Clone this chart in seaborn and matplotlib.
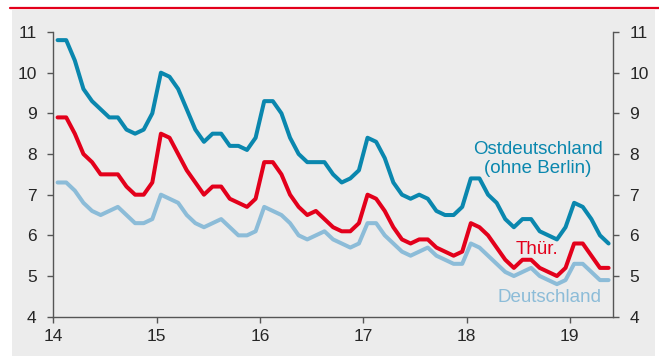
import numpy as np
import pandas as pd
import matplotlib
matplotlib.use("Agg")
import matplotlib.pyplot as plt
from matplotlib.patches import Rectangle
from matplotlib.lines import Line2D
import seaborn as sns

# Monthly unemployment rates (%), January 2014 to May 2019
ost = [10.8, 10.8, 10.3, 9.6, 9.3, 9.1, 8.9, 8.9, 8.6, 8.5, 8.6, 9.0,
       10.0, 9.9, 9.6, 9.1, 8.6, 8.3, 8.5, 8.5, 8.2, 8.2, 8.1, 8.4,
       9.3, 9.3, 9.0, 8.4, 8.0, 7.8, 7.8, 7.8, 7.5, 7.3, 7.4, 7.6,
       8.4, 8.3, 7.9, 7.3, 7.0, 6.9, 7.0, 6.9, 6.6, 6.5, 6.5, 6.7,
       7.4, 7.4, 7.0, 6.8, 6.4, 6.2, 6.4, 6.4, 6.1, 6.0, 5.9, 6.2,
       6.8, 6.7, 6.4, 6.0, 5.8]
thuer = [8.9, 8.9, 8.5, 8.0, 7.8, 7.5, 7.5, 7.5, 7.2, 7.0, 7.0, 7.3,
         8.5, 8.4, 8.0, 7.6, 7.3, 7.0, 7.2, 7.2, 6.9, 6.8, 6.7, 6.9,
         7.8, 7.8, 7.5, 7.0, 6.7, 6.5, 6.6, 6.4, 6.2, 6.1, 6.1, 6.3,
         7.0, 6.9, 6.6, 6.2, 5.9, 5.8, 5.9, 5.9, 5.7, 5.6, 5.5, 5.6,
         6.3, 6.2, 6.0, 5.7, 5.4, 5.2, 5.4, 5.4, 5.2, 5.1, 5.0, 5.2,
         5.8, 5.8, 5.5, 5.2, 5.2]
deutschland = [7.3, 7.3, 7.1, 6.8, 6.6, 6.5, 6.6, 6.7, 6.5, 6.3, 6.3, 6.4,
               7.0, 6.9, 6.8, 6.5, 6.3, 6.2, 6.3, 6.4, 6.2, 6.0, 6.0, 6.1,
               6.7, 6.6, 6.5, 6.3, 6.0, 5.9, 6.0, 6.1, 5.9, 5.8, 5.7, 5.8,
               6.3, 6.3, 6.0, 5.8, 5.6, 5.5, 5.6, 5.7, 5.5, 5.4, 5.3, 5.3,
               5.8, 5.7, 5.5, 5.3, 5.1, 5.0, 5.1, 5.2, 5.0, 4.9, 4.8, 4.9,
               5.3, 5.3, 5.1, 4.9, 4.9]
series_names = ["Ostdeutschland\n(ohne Berlin)", "Thür.", "Deutschland"]
year_ticks = [14, 15, 16, 17, 18, 19]
y_ticks = [4, 5, 6, 7, 8, 9, 10, 11]

colors = {series_names[0]: "#0a87ae", series_names[1]: "#e3001b",
          series_names[2]: "#8cbcd8"}

n = len(ost)
t = 14 + (np.arange(n) + 0.5) / 12.0
df = pd.concat([
    pd.DataFrame({"t": t, "Quote": ost, "Reihe": series_names[0]}),
    pd.DataFrame({"t": t, "Quote": thuer, "Reihe": series_names[1]}),
    pd.DataFrame({"t": t, "Quote": deutschland, "Reihe": series_names[2]}),
])

sns.set_style("white")
plt.rcParams["font.family"] = ["Liberation Sans", "DejaVu Sans"]

W, H = 659, 356
fig = plt.figure(figsize=(W / 100, H / 100), dpi=100)
fig.patch.set_facecolor("white")
# grey panel and red rule at the top
fig.patches.append(Rectangle((12 / W, 0), (655 - 12) / W, (H - 10) / H,
                             transform=fig.transFigure, facecolor="#ececec",
                             edgecolor="none", zorder=-10))
fig.lines.append(Line2D([10 / W, 1], [1 - 8 / H, 1 - 8 / H],
                        transform=fig.transFigure, color="#e3001b", lw=1.6,
                        zorder=-5))

ax = fig.add_axes([53.3 / W, 1 - 316.7 / H, (612.5 - 53.3) / W, (316.7 - 32) / H])
ax.set_facecolor("none")
ax.patch.set_alpha(0)

sns.lineplot(data=df, x="t", y="Quote", hue="Reihe", palette=colors,
             hue_order=series_names[::-1], linewidth=2.9, legend=False, ax=ax)

ax.set_xlim(14, 19.413)
ax.set_ylim(4, 11)
ax.set_xticks(year_ticks)
ax.set_xticklabels([str(v) for v in year_ticks])
ax.set_yticks(y_ticks)
ax.set_yticklabels([str(v) for v in y_ticks])
ax.set_xlabel("")
ax.set_ylabel("")

spine_c = "#555555"
for s in ["left", "right", "bottom"]:
    ax.spines[s].set_visible(True)
    ax.spines[s].set_color(spine_c)
    ax.spines[s].set_linewidth(1.0)
ax.spines["top"].set_visible(False)

ax.tick_params(axis="x", direction="out", length=4, width=1, color=spine_c,
               labelsize=12.5, pad=5, bottom=True)
ax.tick_params(axis="y", direction="out", length=4, width=1, color=spine_c,
               labelsize=12.5, pad=8, left=True, right=True, labelleft=True,
               labelright=True)

ax.text(18.69, 7.88, series_names[0], color=colors[series_names[0]],
        fontsize=13.5, ha="center", va="center", linespacing=1.15)
ax.text(18.68, 5.64, series_names[1], color=colors[series_names[1]],
        fontsize=13.5, ha="center", va="center")
ax.text(18.80, 4.48, series_names[2], color=colors[series_names[2]],
        fontsize=13.5, ha="center", va="center")

fig.savefig("out.png", dpi=100, facecolor="white")
